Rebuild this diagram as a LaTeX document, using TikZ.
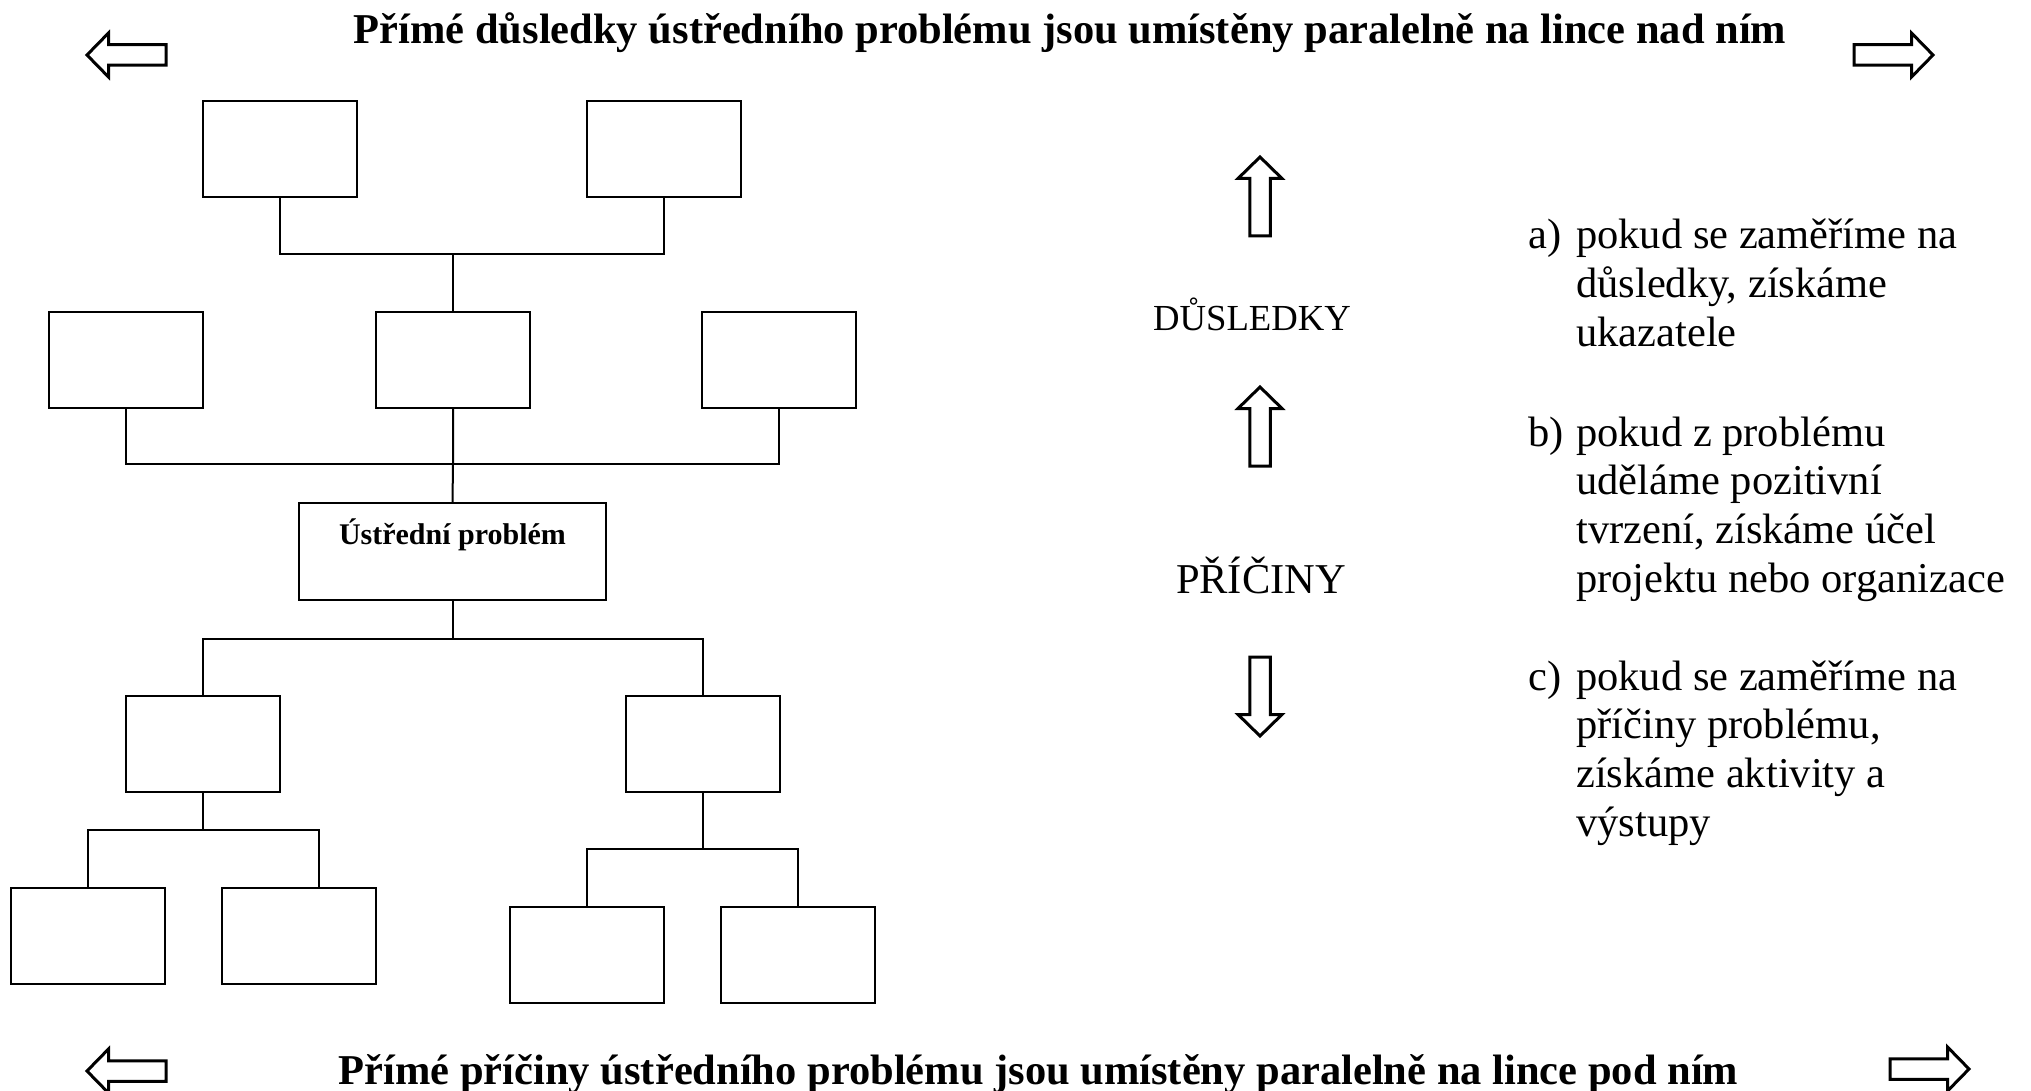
\documentclass[tikz,border=0pt]{standalone}
\usepackage{fontspec}
\setmainfont{Liberation Serif}
\begin{document}
\begin{tikzpicture}[x=1pt,y=-1pt,
  box/.style={draw, line width=2.2pt, rectangle, inner sep=0pt,
    minimum width=154pt, minimum height=96pt},
  corebox/.style={draw, line width=2.2pt, rectangle, inner sep=0pt,
    minimum width=307pt, minimum height=97pt},
  conn/.style={line width=2pt},
  hollow/.style={draw, line width=3pt, line join=miter, fill=white},
  headline/.style={font=\fontsize{42.5}{50}\selectfont\bfseries, anchor=base, inner sep=0pt},
  sidelabel/.style={anchor=base, inner sep=0pt},
  item/.style={font=\fontsize{42.5}{48.8}\selectfont, anchor=base west, inner sep=0pt},
  blockarrow/.pic={
    \draw[hollow] (0,0) -- (21.5,-22) -- (21.5,-10.25) -- (79,-10.25)
      -- (79,10.25) -- (21.5,10.25) -- (21.5,22) -- cycle;
  }
]
\useasboundingbox[fill=white] (0,0) rectangle (2031,1091);

% headlines with their side arrows
\node[headline] (toptitle) at (1070,44)
  {Přímé důsledky ústředního problému jsou umístěny paralelně na lince nad ním};
\node[headline] (bottitle) at (1038.5,1084)
  {Přímé příčiny ústředního problému jsou umístěny paralelně na lince pod ním};
\pic at (87,55) {blockarrow};
\pic[rotate=180] at (1933,55) {blockarrow};
\pic at (87,1071) {blockarrow};
\pic[rotate=180] at (1969,1069) {blockarrow};

% consequences (upper tree)
\node[box] (t1) at (280,149) {};
\node[box] (t2) at (664,149) {};
\node[box] (m1) at (126,360) {};
\node[box] (m2) at (453,360) {};
\node[box] (m3) at (779,360) {};

% central problem
\node[corebox] (core) at (452.5,551.5) {};
\node[font=\fontsize{30}{36}\selectfont\bfseries, anchor=base, inner sep=0pt]
  (coretext) at (452.5,544) {Ústřední problém};

% causes (lower tree)
\node[box] (c1) at (203,744) {};
\node[box] (c2) at (703,744) {};
\node[box] (l1) at (88,936) {};
\node[box] (l2) at (299,936) {};
\node[box] (r1) at (587,955) {};
\node[box] (r2) at (798,955) {};

% bus junctions
\coordinate (bus1) at (453,254);
\coordinate (bus2) at (453,464);
\coordinate (bus3) at (452.5,639);
\coordinate (bus4) at (203,830);
\coordinate (bus5) at (703,849);
\coordinate (l2in) at ([xshift=20pt]l2.north);

\draw[conn] (t1.south) |- (bus1) -| (t2.south);
\draw[conn] (bus1) -- (m2.north);
\draw[conn] (m1.south) |- (bus2) -| (m3.south);
\draw[conn] (m2.south) -- (bus2) -- (core.north);
\draw[conn] (core.south) -- (bus3);
\draw[conn] (c1.north) |- (bus3) -| (c2.north);
\draw[conn] (c1.south) -- (bus4);
\draw[conn] (l1.north) |- (bus4) -| (l2in);
\draw[conn] (c2.south) -- (bus5);
\draw[conn] (r1.north) |- (bus5) -| (r2.north);

% direction column
\pic[rotate=-90] at (1260,157) {blockarrow};
\node[sidelabel, font=\fontsize{36.7}{44}\selectfont] (dusl) at (1252,330) {DŮSLEDKY};
\pic[rotate=-90] at (1260,387) {blockarrow};
\node[sidelabel, font=\fontsize{42.5}{50}\selectfont] (pric) at (1261,593) {PŘÍČINY};
\pic[rotate=90] at (1260,736) {blockarrow};

% explanation list
\node[item] (la) at (1528,249) {a)};
\node[item] (ta) at (1576,249) {\begin{tabular}[t]{@{}l@{}}
  pokud se zaměříme na\\ důsledky, získáme\\ ukazatele\end{tabular}};
\node[item] (lb) at (1528,446) {b)};
\node[item] (tb) at (1576,446) {\begin{tabular}[t]{@{}l@{}}
  pokud z problému\\ uděláme pozitivní\\ tvrzení, získáme účel\\ projektu nebo organizace\end{tabular}};
\node[item] (lc) at (1528,690) {c)};
\node[item] (tc) at (1576,690) {\begin{tabular}[t]{@{}l@{}}
  pokud se zaměříme na\\ příčiny problému,\\ získáme aktivity a\\ výstupy\end{tabular}};
\end{tikzpicture}
\end{document}
